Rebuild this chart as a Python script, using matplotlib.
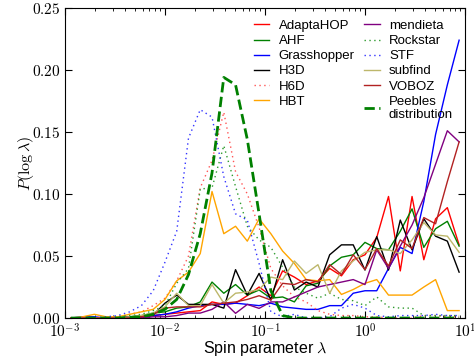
import numpy as np
import matplotlib
matplotlib.use('Agg')
import matplotlib.pyplot as plt
from matplotlib.ticker import FixedLocator, FixedFormatter

plt.rcParams['mathtext.fontset'] = 'cm'
plt.rcParams['font.family'] = ['Liberation Sans', 'DejaVu Sans']

# 34 log-spaced bins between 1e-3 and 10
edges = np.linspace(-3, 1, 35)
lam = 10 ** (0.5 * (edges[1:] + edges[:-1]))

adaptahop = [0, 0, 0, 0, 0, 0, 0.001, 0.002, 0.003, 0.004, 0.005, 0.006, 0.013, 0.011,
             0.012, 0.018, 0.025, 0.018, 0.038, 0.033, 0.027, 0.03, 0.04, 0.034,
             0.047, 0.051, 0.065, 0.098, 0.038, 0.098, 0.047, 0.08, 0.089, 0.059]
ahf = [0, 0, 0, 0, 0, 0.001, 0.002, 0.004, 0.005, 0.008, 0.009, 0.013, 0.029, 0.02,
       0.027, 0.0185, 0.0226, 0.016, 0.017, 0.013, 0.026, 0.028, 0.042, 0.049,
       0.051, 0.061, 0.056, 0.055, 0.07, 0.088, 0.057, 0.072, 0.078, 0.058]
grasshopper = [0, 0.001, 0.001, 0, 0, 0.001, 0.001, 0.002, 0.003, 0.005, 0.008, 0.01,
               0.011, 0.011, 0.012, 0.011, 0.01, 0.012, 0.009, 0.008, 0.007, 0.007,
               0.01, 0.01, 0.02, 0.022, 0.022, 0.04, 0.057, 0.052, 0.094, 0.148,
               0.188, 0.224]
h3d = [0, 0, 0, 0, 0, 0.001, 0.001, 0.0024, 0.012, 0.0185, 0.011, 0.011, 0.011, 0.008,
       0.039, 0.0185, 0.036, 0.0145, 0.047, 0.0226, 0.029, 0.025, 0.051, 0.059,
       0.059, 0.0387, 0.0656, 0.0387, 0.079, 0.055, 0.08, 0.066, 0.062, 0.037]
h6d = [0, 0, 0, 0, 0.001, 0.003, 0.005, 0.01, 0.016, 0.03, 0.05, 0.105, 0.127, 0.166,
       0.118, 0.1, 0.073, 0.04, 0.026, 0.017, 0.013, 0.006, 0.003, 0.002, 0.002,
       0.001, 0.001, 0, 0, 0, 0.002, 0.002, 0.001, 0.001]
hbt = [0, 0.001, 0.003, 0.001, 0.001, 0.003, 0.005, 0.007, 0.015, 0.03, 0.037, 0.052,
       0.102, 0.068, 0.074, 0.062, 0.08, 0.068, 0.054, 0.044, 0.031, 0.03, 0.031,
       0.019, 0.023, 0.028, 0.031, 0.0185, 0.0185, 0.0185, 0.025, 0.031, 0.006, 0.006]
mendieta = [0, 0, 0, 0, 0, 0, 0, 0.001, 0.001, 0.002, 0.004, 0.004, 0.007, 0.013,
            0.0038, 0.011, 0.0078, 0.013, 0.013, 0.017, 0.021, 0.025, 0.027, 0.029,
            0.031, 0.027, 0.055, 0.04, 0.058, 0.075, 0.097, 0.124, 0.151, 0.142]
rockstar = [0, 0, 0, 0, 0.001, 0.002, 0.003, 0.006, 0.01, 0.028, 0.04, 0.104, 0.105,
            0.139, 0.106, 0.074, 0.063, 0.057, 0.041, 0.025, 0.02, 0.016, 0.02, 0.015,
            0.014, 0.01, 0.017, 0.009, 0.008, 0.008, 0.002, 0.002, 0.002, 0.002]
stf = [0, 0, 0, 0.001, 0.002, 0.005, 0.01, 0.022, 0.045, 0.07, 0.145, 0.168, 0.162,
       0.114, 0.084, 0.079, 0.044, 0.005, 0.001, 0.003, 0, 0, 0.001, 0.008, 0.011,
       0.008, 0.002, 0.001, 0.002, 0.002, 0.002, 0.003, 0.002, 0.002]
subfind = [0, 0, 0, 0, 0, 0.001, 0.002, 0.004, 0.009, 0.02, 0.01, 0.01, 0.027, 0.012,
           0.02, 0.021, 0.023, 0.033, 0.031, 0.046, 0.036, 0.043, 0.02, 0.038, 0.046,
           0.053, 0.055, 0.055, 0.052, 0.063, 0.077, 0.067, 0.066, 0.053]
voboz = [0, 0, 0, 0, 0, 0, 0.001, 0.003, 0.008, 0.009, 0.009, 0.009, 0.011, 0.012,
         0.013, 0.015, 0.018, 0.0145, 0.028, 0.027, 0.031, 0.029, 0.043, 0.035, 0.051,
         0.039, 0.056, 0.042, 0.063, 0.056, 0.081, 0.076, 0.11, 0.142]
peebles = [0, 0, 0, 0, 0, 0.0005, 0.001, 0.003, 0.007, 0.015, 0.035, 0.068, 0.117,
           0.194, 0.188, 0.144, 0.084, 0.022, 0.002, 0, 0, 0, 0, 0, 0, 0, 0, 0, 0, 0,
           0, 0, 0, 0]

dot = (0, (1, 2.5))
series = [
    ('AdaptaHOP', adaptahop, 'red', '-'),
    ('AHF', ahf, 'green', '-'),
    ('Grasshopper', grasshopper, 'blue', '-'),
    ('H3D', h3d, 'black', '-'),
    ('H6D', h6d, '#ff5555', dot),
    ('HBT', hbt, 'orange', '-'),
    ('mendieta', mendieta, 'purple', '-'),
    ('Rockstar', rockstar, '#2e9b2e', dot),
    ('STF', stf, '#3333ff', dot),
    ('subfind', subfind, '#bdb76b', '-'),
    ('VOBOZ', voboz, '#b22222', '-'),
]

fig = plt.figure(figsize=(4.74, 3.61), dpi=100)
ax = fig.add_axes([0.137, 0.119, 0.844, 0.859])

for name, vals, col, ls in series:
    ax.plot(lam, vals, color=col, ls=ls, lw=1.0, label=name)
ax.plot(lam, peebles, color='green', ls='--', lw=2.0, label='Peebles\ndistribution')

ax.set_xscale('log')
ax.set_xlim(1e-3, 10)
ax.set_ylim(0, 0.25)

ax.xaxis.set_major_locator(FixedLocator([1e-3, 1e-2, 1e-1, 1, 10]))
ax.xaxis.set_major_formatter(FixedFormatter([r'$10^{-3}$', r'$10^{-2}$', r'$10^{-1}$',
                                             r'$10^{0}$', r'$10^{1}$']))
yt = [0, 0.05, 0.10, 0.15, 0.20, 0.25]
ax.set_yticks(yt)
ax.set_yticklabels([r'$%.2f$' % v for v in yt])
ax.tick_params(which='both', direction='in', top=True, right=True, labelsize=11, pad=3)
ax.tick_params(which='major', length=5)
ax.tick_params(which='minor', length=2.5)

ax.set_xlabel(r'Spin parameter $\lambda$', fontsize=11.5, labelpad=-1)
ax.set_ylabel(r'$P(\log\lambda)$', fontsize=11.5, labelpad=-3)

ax.legend(ncol=2, frameon=False, loc='upper right', bbox_to_anchor=(1.0, 1.0),
          fontsize=9.5, handlelength=1.2, labelspacing=0.22, columnspacing=0.7,
          handletextpad=0.7, borderaxespad=0.5)

fig.savefig('out.png', dpi=100)
